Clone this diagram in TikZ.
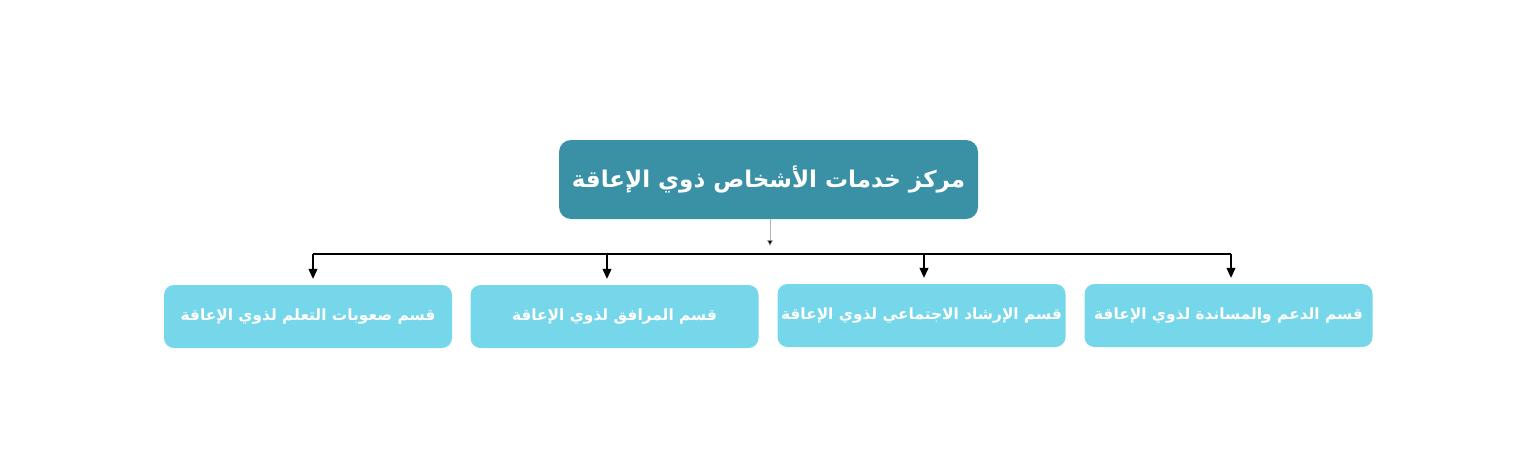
\documentclass[tikz,border=0pt]{standalone}
\usepackage{fontspec}
\TeXXeTstate=1
\newfontfamily\arabicfont[Script=Arabic]{DejaVu Sans}
\usetikzlibrary{arrows.meta}
\definecolor{topc}{HTML}{3A91A5}
\definecolor{subc}{HTML}{76D7EA}
\tikzset{
  topbox/.style={fill=topc, rounded corners=12pt, minimum width=419pt, minimum height=79pt, text=white, font=\arabicfont\bfseries\fontsize{23}{27}\selectfont, inner sep=0pt},
  subbox/.style={fill=subc, rounded corners=10pt, minimum width=288pt, minimum height=63pt, text=white, font=\arabicfont\bfseries\fontsize{15.4}{18}\selectfont, inner sep=0pt},
  conn/.style={draw=black, line width=1.1pt, -{Triangle[length=10pt,width=9pt]}},
  thinconn/.style={draw=gray!60, line width=0.6pt, -{Triangle[length=6pt,width=6pt,fill=black]}}
}
\begin{document}
\begin{tikzpicture}[x=1pt,y=-1pt]
\useasboundingbox (0,0) rectangle (1537,464);
\node[topbox] (top) at (768.5,179.5) {\beginR مركز خدمات الأشخاص ذوي الإعاقة\endR};
\node[subbox] (s1) at (308,316.5) {\beginR قسم صعوبات التعلم لذوي الإعاقة\endR};
\node[subbox] (s2) at (614.5,316.5) {\beginR قسم المرافق لذوي الإعاقة\endR};
\node[subbox] (s3) at (921.5,315.5) {\beginR قسم الإرشاد الاجتماعي لذوي الإعاقة\endR};
\node[subbox] (s4) at (1228.5,315.5) {\beginR قسم الدعم والمساندة لذوي الإعاقة\endR};
\coordinate (mid) at (770,246);
\coordinate (hl) at (313,254);
\coordinate (hr) at (1231,254);
\coordinate (b1) at (313,254);
\coordinate (b2) at (607,254);
\coordinate (b3) at (924,254);
\coordinate (b4) at (1231,254);
\draw[thinconn] (top.south -| mid) -- (mid);
\draw[black, line width=1.1pt] (hl) -- (hr);
\draw[conn] (b1) -- ([yshift=6pt]b1 |- s1.north);
\draw[conn] (b2) -- ([yshift=6pt]b2 |- s2.north);
\draw[conn] (b3) -- ([yshift=6pt]b3 |- s3.north);
\draw[conn] (b4) -- ([yshift=6pt]b4 |- s4.north);
\end{tikzpicture}
\end{document}
